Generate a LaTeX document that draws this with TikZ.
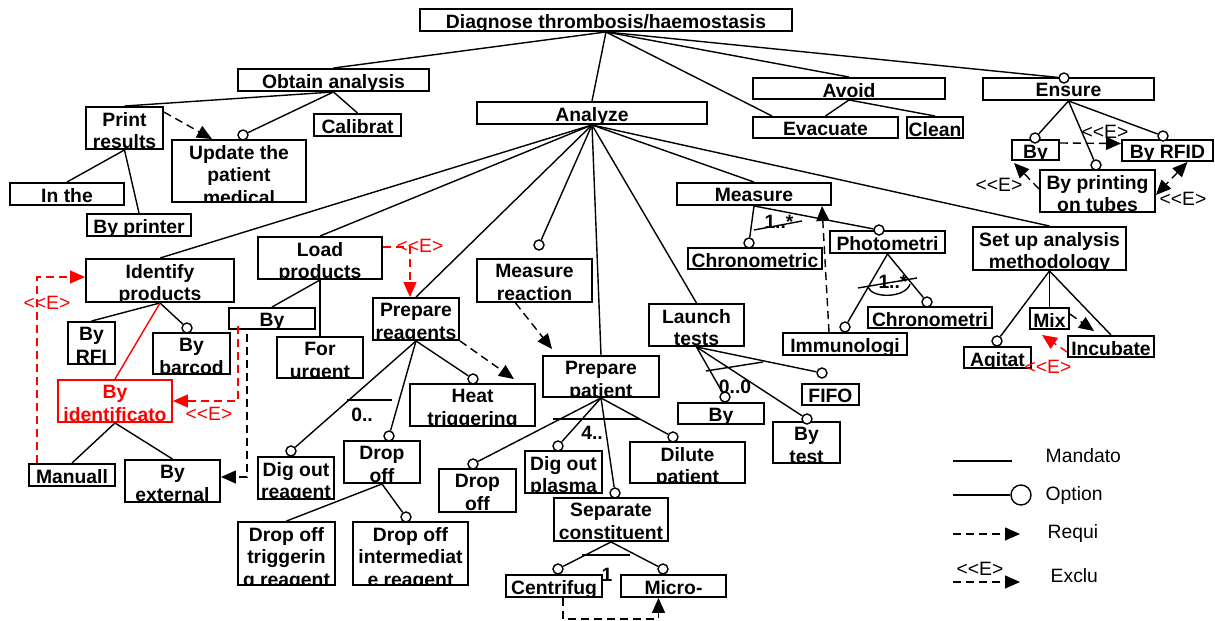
\documentclass[tikz,border=0pt]{standalone}
\usepackage{fontspec}
\setmainfont{Liberation Sans}
\usetikzlibrary{arrows.meta}

\newcommand{\exlab}{<{}<E>}

\tikzset{
  feat/.style n args={3}{draw, line width=1.1pt, inner sep=0pt,
    minimum width=#1*0.02cm, minimum height=#2*0.02cm,
    path picture={\node[ftxt] at ([yshift=-0.11cm]path picture bounding box.north) {#3};}},
  ftxt/.style={draw=none, shape=rectangle, anchor=north, inner sep=0pt, outer sep=0pt,
    minimum width=0pt, minimum height=0pt, align=center,
    font=\bfseries\fontsize{11}{12.8}\selectfont},
  opt/.style={circle, draw, fill=white, line width=0.8pt, inner sep=0pt, minimum size=0.2cm},
  req/.style={->, line width=0.8pt, dash pattern=on 0.16cm off 0.1cm},
  excl/.style={req, red},
  card/.style={inner sep=0pt, font=\bfseries\fontsize{11}{12}\selectfont},
  elab/.style={inner sep=0pt, font=\fontsize{11}{12}\selectfont},
}

\begin{document}
\begin{tikzpicture}[x=0.02cm, y=-0.02cm, line width=0.8pt,
  >={Triangle[length=0.3cm,width=0.26cm]}]
\useasboundingbox (0,0) rectangle (1215,621);

% Top level
\node[feat={372}{22}{Diagnose thrombosis/haemostasis}] (diag) at (606,20) {};
\node[feat={191}{22}{Obtain analysis}] (obtain) at (333.5,80) {};
\node[feat={230}{22}{Analyze}] (analyze) at (592,113) {};
\node[feat={192}{21}{Avoid}] (avoid) at (849,88.5) {};
\node[feat={171}{22}{Ensure}] (ensure) at (1068.5,89) {};

% Obtain analysis
\node[feat={77}{42}{Print\\results}] (print) at (124.5,128) {};
\node[feat={87}{22}{Calibrat}] (calib) at (357.5,125) {};
\node[feat={134}{62}{Update the\\patient\\medical}] (update) at (239,171) {};
\node[feat={114}{22}{In the}] (inthe) at (67,194) {};
\node[feat={104}{22}{By printer}] (printer) at (139,225) {};

% Avoid and Ensure
\node[feat={145}{21}{Evacuate}] (evac) at (825.5,127.5) {};
\node[feat={56}{21}{Clean}] (clean) at (935,127.5) {};
\node[feat={47}{20}{By}] (byid) at (1035.5,150) {};
\node[feat={91}{21}{By RFID}] (rfid) at (1167.5,150.5) {};
\node[feat={115}{42}{By printing\\on tubes}] (tubes) at (1097.5,191) {};

% Identify and load
\node[feat={148}{43}{Identify\\products}] (identify) at (160,280.5) {};
\node[feat={124}{42}{Load\\products}] (load) at (320,258) {};
\node[feat={86}{21}{By}] (byload) at (272,318.5) {};
\node[feat={86}{41}{For\\urgent}] (urgent) at (320,357.5) {};
\node[feat={47}{42}{By\\RFI}] (rfi) at (91.5,343) {};
\node[feat={77}{41}{By\\barcod}] (barcod) at (191.5,353.5) {};
\node[feat={114}{42}{By\\identificato}, red] (identif) at (115,401) {};
\node[feat={86}{22}{Manuall}] (manual) at (72,475) {};
\node[feat={95}{42}{By\\external}] (external) at (172.5,481) {};

% Reagents and patient
\node[feat={86}{42}{Prepare\\reagents}] (prepreag) at (416,319) {};
\node[feat={125}{42}{Heat\\triggering}] (heat) at (472.5,405) {};
\node[feat={115}{43}{Measure\\reaction}] (measreac) at (534.5,280.5) {};
\node[feat={116}{41}{Prepare\\patient}] (preppat) at (601,376.5) {};
\node[feat={76}{42}{Dig out\\reagent}] (digreag) at (296,478) {};
\node[feat={76}{42}{Drop\\off}] (dropr) at (382,462) {};
\node[feat={97}{63}{Drop off\\triggerin\\g reagent}] (droptrig) at (286.5,553.5) {};
\node[feat={115}{63}{Drop off\\intermediat\\e reagent}] (dropint) at (410.5,553.5) {};
\node[feat={77}{43}{Drop\\off}] (dropp) at (477.5,490.5) {};
\node[feat={77}{42}{Dig out\\plasma}] (digplas) at (563.5,472) {};
\node[feat={115}{41}{Dilute\\patient}] (dilute) at (687.5,462.5) {};
\node[feat={114}{43}{Separate\\constituent}] (separate) at (611,519.5) {};
\node[feat={96}{22}{Centrifug}] (centri) at (554,586) {};
\node[feat={105}{22}{Micro-}] (micro) at (673.5,586) {};

% Tests and measure
\node[feat={95}{42}{Launch\\tests}] (launch) at (696.5,325) {};
\node[feat={86}{21}{By}] (bylt) at (721,413.5) {};
\node[feat={67}{41}{By\\test}] (bytest) at (806.5,442.5) {};
\node[feat={57}{21}{FIFO}] (fifo) at (830.5,394.5) {};
\node[feat={154}{22}{Measure}] (measure) at (754,194) {};
\node[feat={134}{21}{Chronometric}] (chrono) at (755,258.5) {};
\node[feat={115}{22}{Photometri}] (photo) at (887.5,242) {};
\node[feat={124}{22}{Immunologi}] (immuno) at (845,344) {};
\node[feat={124}{21}{Chronometri}] (chrono2) at (930,317.5) {};
\node[feat={153}{43}{Set up analysis\\methodology}] (setup) at (1049.5,248.5) {};
\node[feat={39}{21}{Mix}] (mix) at (1049.5,318.5) {};
\node[feat={67}{21}{Agitat}] (agitat) at (997.5,357.5) {};
\node[feat={86}{21}{Incubate}] (incub) at (1111,346.5) {};

% Optional marks
\node[opt] (o-update) at (243,135) {};
\node[opt] (o-ensure) at (1064,78) {};
\node[opt] (o-byid) at (1035,138) {};
\node[opt] (o-rfid) at (1163,136) {};
\node[opt] (o-tubes) at (1096,165) {};
\node[opt] (o-barcod) at (187,328) {};
\node[opt] (o-heat) at (473,379) {};
\node[opt] (o-measreac) at (539,245) {};
\node[opt] (o-digreag) at (291,451) {};
\node[opt] (o-dropr) at (389,436) {};
\node[opt] (o-dropint) at (406,517) {};
\node[opt] (o-dropp) at (473,464) {};
\node[opt] (o-digplas) at (558,446) {};
\node[opt] (o-dilute) at (673,437) {};
\node[opt] (o-separate) at (615,493) {};
\node[opt] (o-centri) at (558,569) {};
\node[opt] (o-micro) at (663,569) {};
\node[opt] (o-bylt) at (725,397) {};
\node[opt] (o-bytest) at (807,419) {};
\node[opt] (o-fifo) at (822,373) {};
\node[opt] (o-chrono) at (749,243) {};
\node[opt] (o-photo) at (879,230) {};
\node[opt] (o-immuno) at (845,327) {};
\node[opt] (o-chrono2) at (927,302) {};
\node[opt] (o-agitat) at (997,341) {};

% Links from the root
\draw (diag.south) -- (obtain.north);
\draw (diag.south) -- (analyze.north);
\draw (diag.south) -- ([xshift=0.4cm]evac.north west);
\draw (diag.south) -- (avoid.north);
\draw (diag.south) -- (o-ensure);

\draw (obtain.south) -- (print.north);
\draw (obtain.south) -- (o-update);
\draw (obtain.south) -- (calib.north);
\draw (print.south) -- (inthe.north);
\draw (print.south) -- (printer.north);
\draw[req] ([yshift=-0.12cm]print.north east) -- ([xshift=0.82cm]update.north west);

\draw (avoid.south) -- (evac.north);
\draw (avoid.south) -- (clean.north);
\draw (ensure.south) -- (o-byid);
\draw (ensure.south) -- (o-tubes);
\draw (ensure.south) -- (o-rfid);
\draw[req] ([yshift=0.14cm]byid.east) -- ([yshift=0.14cm]rfid.west);
\node[elab] (e-rfid) at (1105,132) {\exlab};
\draw[req] ([yshift=0.04cm]tubes.west) -- ([xshift=0.06cm,yshift=-0.04cm]byid.south west);
\node[elab] (e-byid) at (999,185) {\exlab};
\draw[req,<->] ([xshift=0.4cm]rfid.south) -- ([yshift=-0.08cm]tubes.east);
\node[elab] (e-tubes) at (1183,199) {\exlab};

% Analyze
\draw (analyze.south) -- (identify.north);
\draw (analyze.south) -- (load.north);
\draw (analyze.south) -- (prepreag.north);
\draw (analyze.south) -- (o-measreac);
\draw (analyze.south) -- (preppat.north);
\draw (analyze.south) -- (launch.north);
\draw (analyze.south) -- (measure.north);
\draw (analyze.south) -- (setup.north);

\draw (identify.south) -- (rfi.north);
\draw (identify.south) -- (o-barcod);
\draw[red] (identify.south) -- (identif.north);
\draw (identif.south) -- (manual.north);
\draw (identif.south) -- (external.north);
\draw[excl] ([xshift=0.18cm]manual.north west) |- ([yshift=0.07cm]identify.west);
\node[elab, red] (e-ident) at (47,303) {\exlab};

\draw (load.south) -- (byload.north);
\draw (load.south) -- (urgent.north);
\draw[excl] ([xshift=0.2cm,yshift=0.08cm]byload.south west) |- (identif.east);
\node[elab, red] (e-identif) at (209,414) {\exlab};
\draw[req] ([xshift=0.38cm,yshift=-0.08cm]byload.south west) |- ([yshift=0.08cm]external.east);
\draw[excl] ([yshift=0.22cm]load.east) -| ([xshift=-0.12cm]prepreag.north);
\node[elab, red] (e-prepreag) at (420,246) {\exlab};

\draw (prepreag.south) -- (o-digreag);
\draw (prepreag.south) -- (o-dropr);
\draw (prepreag.south) -- (o-heat);
\draw (347,400) -- (392,400);
\node[card] (c-prepreag) at (362,415) {0..};
\draw[req] (prepreag.south east) -- ([xshift=-0.44cm,yshift=0.08cm]heat.north east);
\draw[req] ([xshift=-0.38cm]measreac.south) -- ([xshift=0.2cm,yshift=0.12cm]preppat.north west);

\draw (dropr.south) -- (droptrig.north);
\draw (dropr.south) -- (o-dropint);

\draw (preppat.south) -- (o-dropp);
\draw (preppat.south) -- (o-digplas);
\draw (preppat.south) -- (o-separate);
\draw (preppat.south) -- (o-dilute);
\draw (553,419) -- (640,419);
\node[card] (c-preppat) at (592,433) {4..};

\draw (separate.south) -- (o-centri);
\draw (separate.south) -- (o-micro);
\draw (582,555) -- (630,555);
\node[card] (c-separate) at (607,575) {1};
\draw[req] ([xshift=0.18cm]centri.south) -- ++(0,21) -| ([xshift=-0.3cm]micro.south);

% Launch tests
\draw (launch.south) -- (o-bylt);
\draw (launch.south) -- (o-bytest);
\draw (launch.south) -- (o-fifo);
\draw (706,371) -- (763,362);
\node[card] (c-launch) at (735,387) {0..0};

% Measure
\draw (measure.south) -- (o-chrono);
\draw (754,230) -- (802,221);
\node[card] (c-measure) at (779,222) {1..*};
\draw (measure.south) -- (o-photo);
\draw[req] ([xshift=-0.32cm]immuno.north) -- ([xshift=1.36cm]measure.south);
\draw (photo.south) -- (o-immuno);
\draw (photo.south) -- (o-chrono2);
\draw (858,288) -- (917,278);
\draw (868,287) .. controls (872,299) and (906,298) .. (910,284);
\node[card] (c-photo) at (893,282) {1..*};

% Set up analysis methodology
\draw (setup.south) -- (o-agitat);
\draw (setup.south) -- (mix.north);
\draw (setup.south) -- (incub.north);
\draw[req] ([yshift=-0.14cm]mix.north east) -- ([xshift=0.54cm,yshift=0.08cm]incub.north west);
\draw[excl] ([yshift=-0.11cm]incub.west) -- ([xshift=-0.15cm,yshift=-0.1cm]mix.south);
\node[elab, red] (e-mix) at (1048,367) {\exlab};

% Legend
\draw (953,461) -- (1012,461);
\node[elab, anchor=base west] (l-mand) at (1045,463) {Mandato};
\node[opt, minimum size=0.4cm] (l-circ) at (1021,495) {};
\draw (953,495) -- (l-circ);
\node[elab, anchor=base west] (l-opt) at (1045,501) {Option};
\draw[req] (953,534) -- (1020,534);
\node[elab, anchor=base west] (l-req) at (1047,539) {Requi};
\draw[req] (953,582) -- (1020,582);
\node[elab, anchor=base] (l-e) at (980,576) {\exlab};
\node[elab, anchor=base west] (l-excl) at (1050,583) {Exclu};
\end{tikzpicture}
\end{document}
